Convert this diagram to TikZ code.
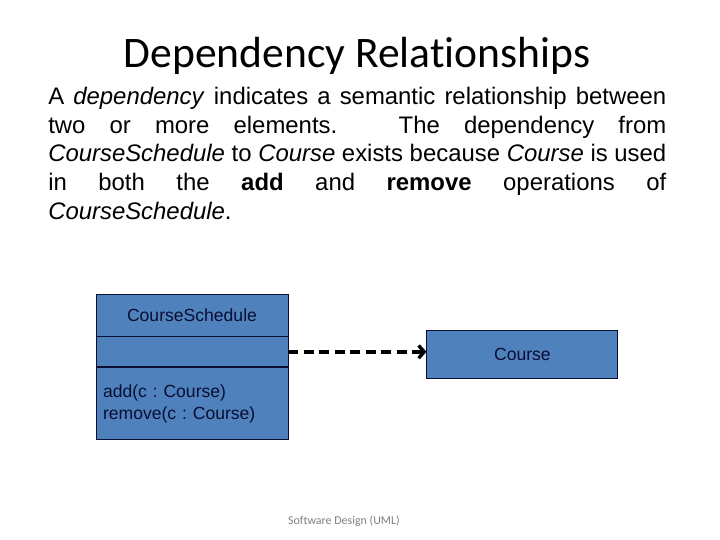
\documentclass[tikz,border=0pt]{standalone}
\usepackage{fontspec}
\setmainfont{Liberation Sans}
\newfontfamily\titrefont[Ligatures=NoCommon]{Carlito}
\usetikzlibrary{positioning, arrows.meta}
\definecolor{bleuuml}{RGB}{79, 129, 189}
\definecolor{encreuml}{RGB}{10, 14, 50}
\definecolor{grispied}{RGB}{127, 127, 127}

\tikzset{
  compart/.style={draw=encreuml, fill=bleuuml, line width=0.6pt, minimum width=4.8cm,
    inner sep=0pt, text=encreuml, font=\fontsize{12.5}{15.6}\selectfont\frenchspacing},
  dependance/.style={line width=2.4pt, dash pattern=on 7pt off 4pt,
    -{Straight Barb[length=4pt, width=9pt]}}
}

\begin{document}
\begin{tikzpicture}[font=\fontsize{17}{20.4}\selectfont]
    \useasboundingbox (0,0) rectangle (18,13.5);
    % titre
    \node[font=\titrefont\fontsize{31}{36}\selectfont] (titre) at (8.925,12.1) {Dependency Relationships};
    % paragraphe
    \node[anchor=north west, text width=15.45cm, align=justify, inner sep=0pt] (texte) at (1.2,11.325)
      {A \textit{dependency} indicates a semantic relationship between\linebreak
       two or more elements. The dependency from\linebreak
       \textit{CourseSchedule} to \textit{Course} exists because \textit{Course} is used\linebreak
       in both the \textbf{add} and \textbf{remove} operations of\linebreak
       \textit{CourseSchedule}.};
    % classe CourseSchedule
    \node[compart, minimum height=1.05cm] (nom) at (4.8,5.625) {CourseSchedule};
    \node[compart, minimum height=0.75cm, below=0pt of nom] (attributs) {};
    \node[compart, minimum height=1.8cm, below=0pt of attributs, text width=4.45cm, align=left] (operations)
      {add(c : Course)\\remove(c : Course)};
    % classe Course
    \node[compart, minimum width=4.775cm, minimum height=1.2cm] (course) at (13.06,4.65) {Course};
    % dépendance
    \draw[dependance] (attributs.east) -- (attributs.east -| course.west);
    % pied de page
    \node[font=\titrefont\fontsize{8.5}{10}\selectfont, text=grispied] (pied) at (8.6,0.475) {Software Design (UML)};
  \end{tikzpicture}
\end{document}
